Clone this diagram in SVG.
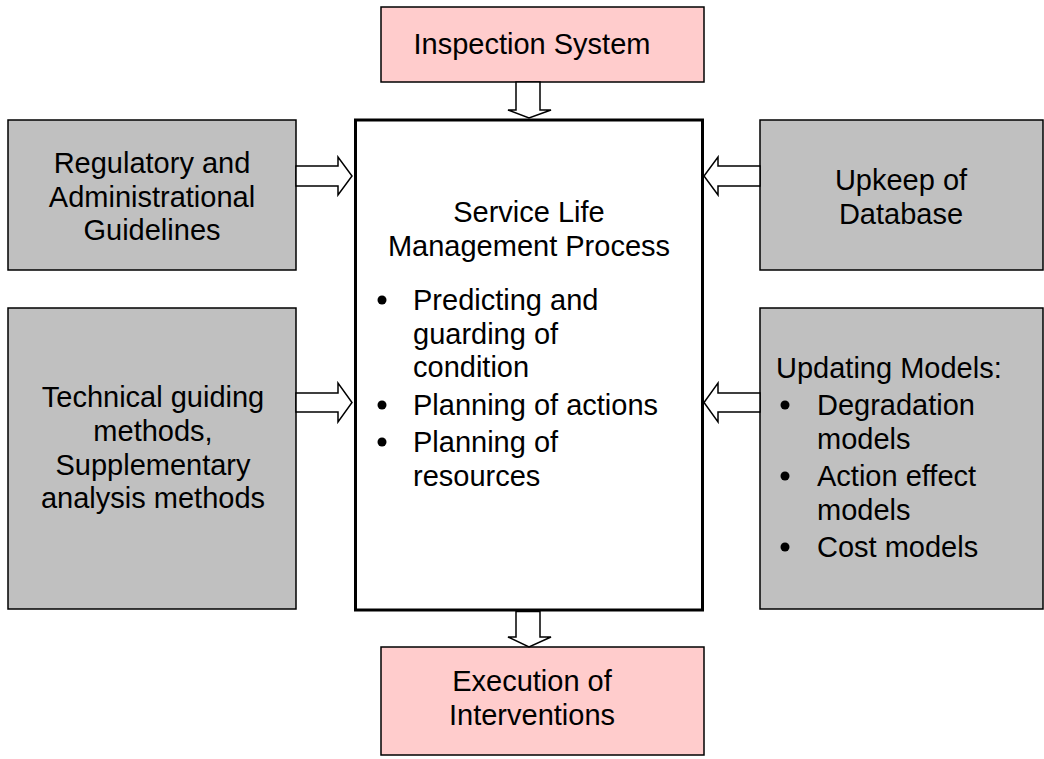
<svg xmlns="http://www.w3.org/2000/svg" width="1044" height="759" viewBox="0 0 1044 759">
<style>
.t{font-family:"Liberation Sans",Arial,sans-serif;font-size:29px;fill:#000}
.c{text-anchor:middle}
.gray{fill:#c0c0c0;stroke:#000;stroke-width:1.5}
.pink{fill:#ffcccc;stroke:#000;stroke-width:1.5}
.main{fill:#fff;stroke:#000;stroke-width:3}
.arr{fill:#fff;stroke:#000;stroke-width:1.5;stroke-linejoin:miter}
</style>
<rect width="1044" height="759" fill="#fff"/>
<g id="inspection">
<rect class="pink" x="381" y="7" width="323" height="75"/>
<text class="t c" x="532" y="54">Inspection System</text>
</g>
<g id="regulatory">
<rect class="gray" x="8" y="120" width="288" height="150"/>
<text class="t c" x="152" y="173">Regulatory and</text>
<text class="t c" x="152" y="206.5">Administrational</text>
<text class="t c" x="152" y="240">Guidelines</text>
</g>
<g id="technical">
<rect class="gray" x="8" y="308" width="288" height="301"/>
<text class="t c" x="153" y="407">Technical guiding</text>
<text class="t c" x="153" y="441">methods,</text>
<text class="t c" x="153" y="474.5">Supplementary</text>
<text class="t c" x="153" y="508">analysis methods</text>
</g>
<g id="upkeep">
<rect class="gray" x="760" y="120" width="283" height="150"/>
<text class="t c" x="901" y="190">Upkeep of</text>
<text class="t c" x="901" y="223.5">Database</text>
</g>
<g id="updating">
<rect class="gray" x="760" y="308" width="283" height="301"/>
<text class="t" x="776" y="378">Updating Models:</text>
<circle cx="785" cy="405" r="4.5"/>
<text class="t" x="817" y="415">Degradation</text>
<text class="t" x="817" y="448.5">models</text>
<circle cx="785" cy="476" r="4.5"/>
<text class="t" x="817" y="486">Action effect</text>
<text class="t" x="817" y="519.5">models</text>
<circle cx="785" cy="547" r="4.5"/>
<text class="t" x="817" y="557">Cost models</text>
</g>
<g id="process">
<rect class="main" x="355.5" y="120" width="347" height="490"/>
<text class="t c" x="529" y="222">Service Life</text>
<text class="t c" x="529" y="256">Management Process</text>
<circle cx="382" cy="300" r="4.5"/>
<text class="t" x="413" y="310">Predicting and</text>
<text class="t" x="413" y="343.5">guarding of</text>
<text class="t" x="413" y="377">condition</text>
<circle cx="382" cy="405" r="4.5"/>
<text class="t" x="413" y="415">Planning of actions</text>
<circle cx="382" cy="442" r="4.5"/>
<text class="t" x="413" y="452">Planning of</text>
<text class="t" x="413" y="485.5">resources</text>
</g>
<g id="execution">
<rect class="pink" x="381" y="647" width="323" height="108"/>
<text class="t c" x="532" y="691">Execution of</text>
<text class="t c" x="532" y="724.5">Interventions</text>
</g>
<g id="connectors">
<polygon class="arr" points="516,82 516,110 508,110 529,118 551,110 540,110 540,82"/>
<polygon class="arr" points="516,611.5 516,637 508,637 529,647 551,637 540,637 540,611.5"/>
<polygon class="arr" points="296,166 338,166 338,157 352,176 338,195 338,186 296,186"/>
<polygon class="arr" points="296,393 338,393 338,383 352,402.5 338,422 338,412 296,412"/>
<polygon class="arr" points="760,166 718,166 718,157 704,176 718,195 718,186 760,186"/>
<polygon class="arr" points="760,393 718,393 718,383 704,402.5 718,422 718,412 760,412"/>
</g>
</svg>
